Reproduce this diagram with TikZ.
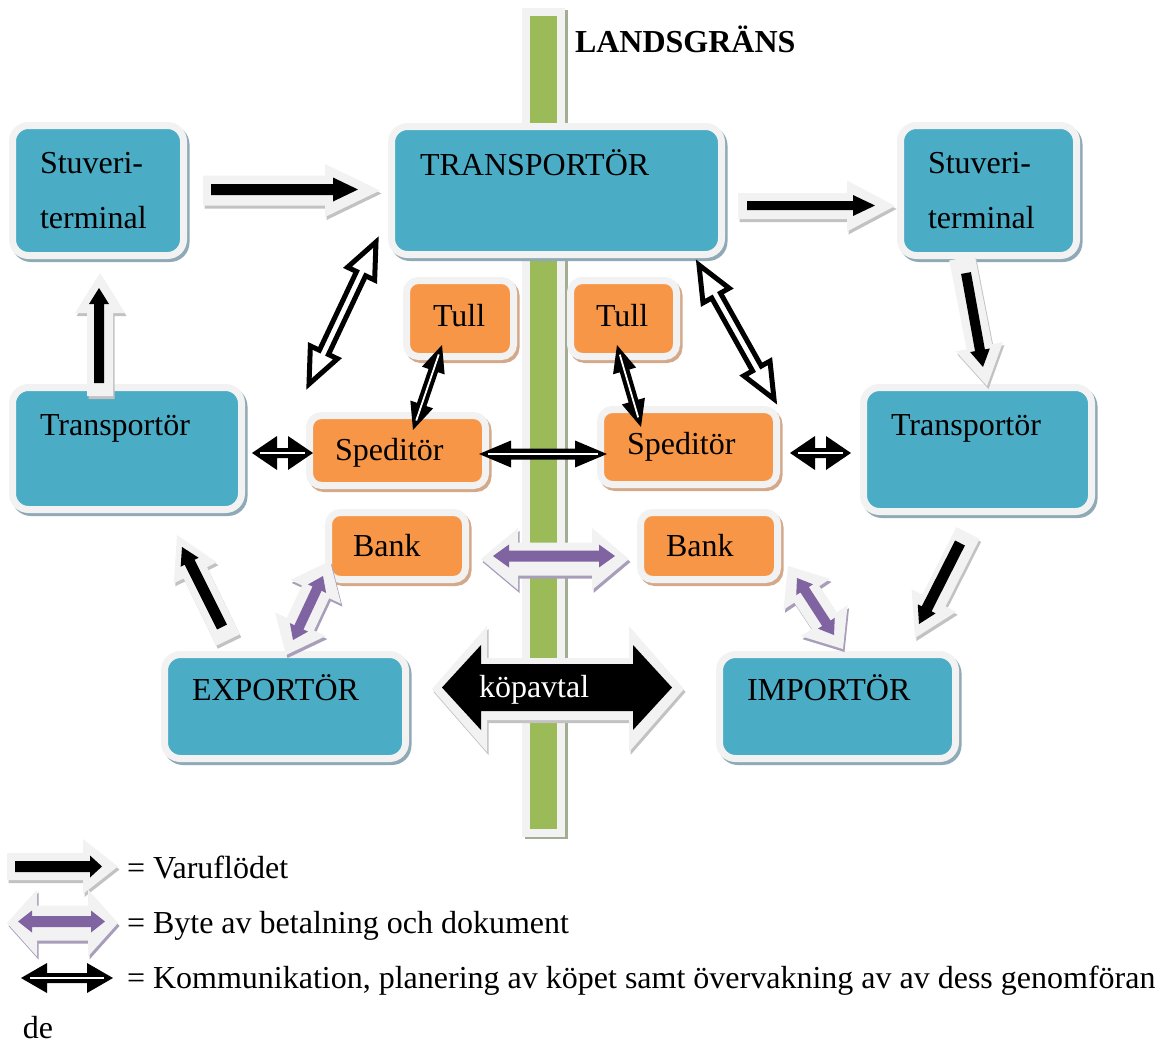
\documentclass[tikz,border=0pt]{standalone}
\usepackage{fontspec}
\setmainfont{Liberation Serif}
\usetikzlibrary{calc,shadows}
\definecolor{cblue}{HTML}{4BACC6}
\definecolor{corange}{HTML}{F79646}
\definecolor{cpurple}{HTML}{8064A2}
\definecolor{cgreen}{HTML}{9BBB59}
\definecolor{cbord}{HTML}{F2F2F2}
\definecolor{cbsh}{HTML}{8FAAB6}
\definecolor{cosh}{HTML}{D4A989}
\definecolor{cgsh}{HTML}{C2C2C2}
\definecolor{cpsh}{HTML}{A89EBA}
\definecolor{cbarsh}{HTML}{A3AD92}
\newcommand\dfont{\fontsize{32}{38}\selectfont}
\newcommand\blkarrow[6][]{%
  \coordinate (ba-p) at ($(#3)!#6!(#2)$);
  \path[#1] ($(#2)!#4!90:(#3)$) -- ($(ba-p)!#4!90:(#3)$) -- ($(ba-p)!#5!90:(#3)$) -- (#3) -- ($(ba-p)!#5!-90:(#3)$) -- ($(ba-p)!#4!-90:(#3)$) -- ($(#2)!#4!-90:(#3)$) -- cycle;}
\newcommand\dblarrow[6][]{%
  \coordinate (da-p) at ($(#2)!#6!(#3)$);
  \coordinate (da-q) at ($(#3)!#6!(#2)$);
  \path[#1] (#2) -- ($(da-p)!#5!90:(#3)$) -- ($(da-p)!#4!90:(#3)$) -- ($(da-q)!#4!-90:(#2)$) -- ($(da-q)!#5!-90:(#2)$) -- (#3) -- ($(da-q)!#5!90:(#2)$) -- ($(da-q)!#4!90:(#2)$) -- ($(da-p)!#4!-90:(#3)$) -- ($(da-p)!#5!-90:(#3)$) -- cycle;}
% solid communication arrow: black double arrow with a thin white core line
\newcommand\commarrow[6]{%
  \dblarrow[fill=black]{#1}{#2}{#3}{#4}{#5}
  \draw[white, line width=1.8pt] ($(#1)!#6!(#2)$) -- ($(#2)!#6!(#1)$);}
\tikzset{
  every node/.style={inner sep=0pt, outer sep=0pt},
  txt/.style={anchor=base west, font=\dfont},
  bluebox/.style={rectangle, rounded corners=16pt, fill=cblue, draw=cbord, line width=7pt,
    drop shadow={shadow xshift=2.5pt, shadow yshift=-3pt, opacity=1, fill=cbsh, draw=cbsh, line width=7pt}},
  orangebox/.style={rectangle, rounded corners=12pt, fill=corange, draw=cbord, line width=7pt,
    drop shadow={shadow xshift=2.5pt, shadow yshift=-3pt, opacity=1, fill=cosh, draw=cosh, line width=7pt}},
  barbox/.style={rectangle, fill=cgreen, draw=cbord, line width=8pt,
    drop shadow={shadow xshift=3pt, shadow yshift=-2pt, opacity=1, fill=cbarsh, draw=cbarsh, line width=8pt}},
  glow/.style={fill=cbord},
  glowsh/.style={fill=cgsh, transform canvas={shift={(1.5pt,-3pt)}}},
  pglowsh/.style={fill=cpsh, transform canvas={shift={(1.5pt,-3pt)}}},
  flowarrow/.style={fill=black},
  payarrow/.style={fill=cpurple},
  commbig/.style={fill=white, draw=black, line width=5pt, line join=miter, miter limit=6}
}
\begin{document}
\begin{tikzpicture}[x=1pt,y=-1pt]
\useasboundingbox (0,0) rectangle (1163,1047);
% border bar
\node[barbox, minimum width=35pt, minimum height=821pt] (bar) at (543.5,422.5) {};
\node[anchor=base west, font=\dfont\bfseries] (landsgrans) at (575,52) {LANDSGRÄNS};
% blue boxes
\node[bluebox, minimum width=171pt, minimum height=130pt] (sl) at (98,190.5) {};
\node[bluebox, minimum width=330pt, minimum height=128pt] (tr) at (556.5,190.5) {};
\node[bluebox, minimum width=176pt, minimum height=130pt] (sr) at (988.5,190.5) {};
\node[bluebox, minimum width=229pt, minimum height=122pt] (tl) at (127,448.5) {};
\node[bluebox, minimum width=228pt, minimum height=124pt] (trr) at (977.5,449.5) {};
\node[bluebox, minimum width=241pt, minimum height=104pt] (ex) at (285,706.5) {};
\node[bluebox, minimum width=236pt, minimum height=104pt] (im) at (837.5,706.5) {};
% orange boxes
\node[orangebox, minimum width=107pt, minimum height=76pt] (tull1) at (460,318.5) {};
\node[orangebox, minimum width=106pt, minimum height=76pt] (tull2) at (623.5,318.5) {};
\node[orangebox, minimum width=176pt, minimum height=70pt] (sp1) at (397.5,450.5) {};
\node[orangebox, minimum width=176pt, minimum height=75pt] (sp2) at (688.5,447) {};
\node[orangebox, minimum width=137pt, minimum height=67pt] (bk1) at (397,546) {};
\node[orangebox, minimum width=137pt, minimum height=67pt] (bk2) at (709,546) {};
% texts
\node[txt] (sl1) at (40,173) {Stuveri-};
\node[txt] (sl2) at (40,228) {terminal};
\node[txt] (trt) at (420,175) {TRANSPORTÖR};
\node[txt] (sr1) at (928,173) {Stuveri-};
\node[txt] (sr2) at (928,228) {terminal};
\node[txt] (tlt) at (40,435) {Transportör};
\node[txt] (trrt) at (891,435) {Transportör};
\node[txt] (ext) at (192,700) {EXPORTÖR};
\node[txt] (imt) at (747,700) {IMPORTÖR};
\node[txt] (tull1t) at (433,326) {Tull};
\node[txt] (tull2t) at (596,326) {Tull};
\node[txt] (sp1t) at (335,460) {Speditör};
\node[txt] (sp2t) at (627,454) {Speditör};
\node[txt] (bk1t) at (353,556) {Bank};
\node[txt] (bk2t) at (666,556) {Bank};
% ---- goods flow arrows
\coordinate (v1a) at (203,190.5); \coordinate (v1b) at (380,190.5);
\coordinate (v1c) at (211,189.5); \coordinate (v1d) at (358,189.5);
\blkarrow[glowsh]{v1a}{v1b}{15pt}{26.5pt}{55pt}
\blkarrow[glow]{v1a}{v1b}{15pt}{26.5pt}{55pt}
\blkarrow[flowarrow]{v1c}{v1d}{5.5pt}{12pt}{25pt}
\coordinate (v2a) at (738,206); \coordinate (v2b) at (895,206);
\coordinate (v2c) at (747,205.5); \coordinate (v2d) at (875,205.5);
\blkarrow[glowsh]{v2a}{v2b}{13pt}{25.5pt}{48pt}
\blkarrow[glow]{v2a}{v2b}{13pt}{25.5pt}{48pt}
\blkarrow[flowarrow]{v2c}{v2d}{4.5pt}{10.5pt}{22pt}
\coordinate (v3a) at (962,258); \coordinate (v3b) at (987,386);
\coordinate (v3c) at (966,273); \coordinate (v3d) at (983,367);
\blkarrow[glowsh]{v3a}{v3b}{13pt}{24pt}{40pt}
\blkarrow[glow]{v3a}{v3b}{13pt}{24pt}{40pt}
\blkarrow[flowarrow]{v3c}{v3d}{5pt}{10pt}{17pt}
\coordinate (v4a) at (968,533); \coordinate (v4b) at (915,638);
\coordinate (v4c) at (960,543); \coordinate (v4d) at (919,624);
\blkarrow[glowsh]{v4a}{v4b}{13pt}{25pt}{42pt}
\blkarrow[glow]{v4a}{v4b}{13pt}{25pt}{42pt}
\blkarrow[flowarrow]{v4c}{v4d}{5.5pt}{10pt}{17pt}
\coordinate (v5a) at (228,640); \coordinate (v5b) at (177,535);
\coordinate (v5c) at (222,627); \coordinate (v5d) at (182,547);
\blkarrow[glowsh]{v5a}{v5b}{13pt}{24pt}{42pt}
\blkarrow[glow]{v5a}{v5b}{13pt}{24pt}{42pt}
\blkarrow[flowarrow]{v5c}{v5d}{5.5pt}{10pt}{17pt}
\coordinate (v6a) at (100,396); \coordinate (v6b) at (100,273);
\coordinate (v6c) at (99,383); \coordinate (v6d) at (99,288);
\blkarrow[glowsh]{v6a}{v6b}{13pt}{25pt}{40pt}
\blkarrow[glow]{v6a}{v6b}{13pt}{25pt}{40pt}
\blkarrow[flowarrow]{v6c}{v6d}{5pt}{10pt}{16pt}
% ---- payment arrows
\coordinate (p1a) at (481,559); \coordinate (p1b) at (629,559);
\coordinate (p1c) at (493,556); \coordinate (p1d) at (615,556);
\dblarrow[pglowsh]{p1a}{p1b}{16.5pt}{31pt}{37pt}
\dblarrow[glow]{p1a}{p1b}{16.5pt}{31pt}{37pt}
\dblarrow[payarrow]{p1c}{p1d}{5.5pt}{11.5pt}{16pt}
\coordinate (p2a) at (286,655); \coordinate (p2b) at (330,561);
\coordinate (p2c) at (293,640); \coordinate (p2d) at (323,576);
\dblarrow[pglowsh]{p2a}{p2b}{15pt}{28pt}{34pt}
\dblarrow[glow]{p2a}{p2b}{15pt}{28pt}{34pt}
\dblarrow[payarrow]{p2c}{p2d}{5pt}{10pt}{14pt}
\coordinate (p3a) at (788,566); \coordinate (p3b) at (843,649);
\coordinate (p3c) at (797,578); \coordinate (p3d) at (834,635);
\dblarrow[pglowsh]{p3a}{p3b}{15pt}{28pt}{34pt}
\dblarrow[glow]{p3a}{p3b}{15pt}{28pt}{34pt}
\dblarrow[payarrow]{p3c}{p3d}{5pt}{10pt}{14pt}
% ---- köpavtal
\coordinate (ka) at (432,689); \coordinate (kb) at (684,689);
\coordinate (kc) at (442,687.5); \coordinate (kd) at (672,687.5);
\dblarrow[glowsh]{ka}{kb}{31pt}{63pt}{55pt}
\dblarrow[glow]{ka}{kb}{31pt}{63pt}{55pt}
\dblarrow[flowarrow]{kc}{kd}{23.5pt}{42.5pt}{39pt}
\node[txt, text=white] (kop) at (479,697) {köpavtal};
% ---- communication arrows
\coordinate (c1a) at (252,453); \coordinate (c1b) at (313,453);
\commarrow{c1a}{c1b}{5pt}{17pt}{25pt}{8pt}
\coordinate (c2a) at (479,454); \coordinate (c2b) at (607,454);
\commarrow{c2a}{c2b}{5.5pt}{13.5pt}{32pt}{9pt}
\coordinate (c3a) at (790,453); \coordinate (c3b) at (851,453);
\commarrow{c3a}{c3b}{5pt}{17pt}{25pt}{8pt}
\coordinate (c4a) at (442,345); \coordinate (c4b) at (413,430);
\commarrow{c4a}{c4b}{5pt}{12pt}{27pt}{10pt}
\coordinate (c5a) at (617,345); \coordinate (c5b) at (641,427);
\commarrow{c5a}{c5b}{5pt}{12pt}{27pt}{10pt}
\coordinate (c6a) at (376,242); \coordinate (c6b) at (309,384);
\dblarrow[commbig]{c6a}{c6b}{5pt}{15pt}{35pt}
\coordinate (c7a) at (699,265); \coordinate (c7b) at (774,399);
\dblarrow[commbig]{c7a}{c7b}{5pt}{15pt}{35pt}
% ---- legend
\coordinate (la) at (7,866.5); \coordinate (lb) at (118,866.5);
\coordinate (lc) at (15,866.5); \coordinate (ld) at (102,866.5);
\blkarrow[glowsh]{la}{lb}{13.5pt}{27.5pt}{35pt}
\blkarrow[glow]{la}{lb}{13.5pt}{27.5pt}{35pt}
\blkarrow[flowarrow]{lc}{ld}{5.5pt}{11pt}{12pt}
\coordinate (lpa) at (7,923); \coordinate (lpb) at (118,923);
\coordinate (lpc) at (18,921.5); \coordinate (lpd) at (105,921.5);
\dblarrow[pglowsh]{lpa}{lpb}{17.5pt}{33.5pt}{30pt}
\dblarrow[glow]{lpa}{lpb}{17.5pt}{33.5pt}{30pt}
\dblarrow[payarrow]{lpc}{lpd}{5.5pt}{11pt}{14pt}
\coordinate (lca) at (21,978); \coordinate (lcb) at (113,978);
\commarrow{lca}{lcb}{5pt}{15pt}{26pt}{9pt}
\node[txt] (leg1) at (127,878) {= Varuflödet};
\node[txt] (leg2) at (127,933) {= Byte av betalning och dokument};
\node[txt] (leg3) at (127,988) {= Kommunikation, planering av köpet samt övervakning av av dess genomföran};
\node[txt] (leg4) at (23,1038) {de};
\end{tikzpicture}
\end{document}
